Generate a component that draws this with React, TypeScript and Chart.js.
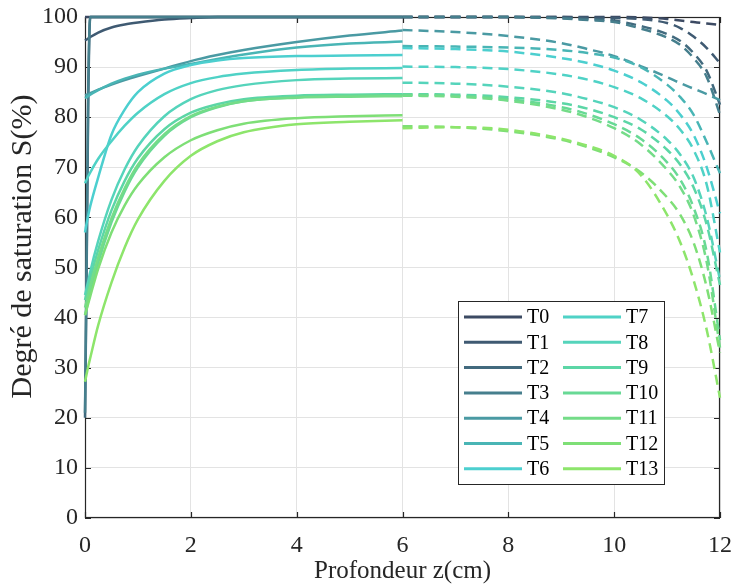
import React, { useEffect, useRef } from 'react';
import { Chart, registerables } from 'chart.js';

Chart.register(...registerables);

// ---------- data ----------
const seriesLabels = ['T0', 'T1', 'T2', 'T3', 'T4', 'T5', 'T6', 'T7', 'T8', 'T9', 'T10', 'T11', 'T12', 'T13'];
const seriesColors = [
  '#3c4a63', '#3f5a72', '#426a7e', '#467f8d', '#4a9aa3', '#49b5b5', '#4ccfcf',
  '#4fd2c6', '#55d4bb', '#5cd6a6', '#68d995', '#74dc88', '#7edf76', '#8de56b',
];

const xTicks = [0, 2, 4, 6, 8, 10, 12];
const yTicks = [0, 10, 20, 30, 40, 50, 60, 70, 80, 90, 100];

const xTitle = 'Profondeur z(cm)';
const yTitle = 'Degré de saturation S(%)';

// depth samples, solid part (0 → 6 cm)
const zSolid = [0, 0.03, 0.06, 0.1, 0.25, 0.5, 0.75, 1, 1.5, 2, 2.5, 3, 4, 5, 6];
// depth samples, dashed part (6 → 12 cm)
const zDashed = [6, 7, 8, 9, 9.5, 10, 10.5, 11, 11.25, 11.5, 11.75, 12];

const solidT0 = [100, 100, 100, 100, 100, 100, 100, 100, 100, 100, 100, 100, 100, 100, 100];
const solidT1 = [95.3, 95.5, 95.7, 96.0, 96.9, 97.9, 98.5, 98.9, 99.5, 99.8, 100, 100, 100, 100, 100];
const solidT2 = [20, 48, 82, 100, 100, 100, 100, 100, 100, 100, 100, 100, 100, 100, 100];
const solidT3 = [21, 50, 85, 100, 100, 100, 100, 100, 100, 100, 100, 100, 100, 100, 100];
const solidT4 = [84.4, 84.5, 84.6, 84.8, 85.5, 86.5, 87.4, 88.2, 89.7, 91.2, 92.4, 93.4, 95.0, 96.3, 97.3];
const solidT5 = [83.8, 84.0, 84.2, 84.5, 85.4, 86.7, 87.7, 88.5, 89.7, 90.6, 91.6, 92.5, 93.9, 94.7, 95.1];
const solidT6 = [57.0, 58.8, 60.4, 62.3, 68.0, 76.5, 81.5, 85.0, 88.7, 90.4, 91.3, 91.8, 92.2, 92.3, 92.4];
const solidT7 = [66.8, 67.5, 68.2, 69.0, 71.7, 75.2, 78.3, 80.9, 84.6, 86.8, 88.0, 88.7, 89.4, 89.7, 89.8];
const solidT8 = [44.5, 45.9, 47.2, 49.2, 55.3, 63.5, 69.6, 74.2, 80.2, 83.6, 85.4, 86.4, 87.4, 87.7, 87.8];
const solidT9 = [43.5, 44.8, 46.0, 47.8, 53.5, 61.4, 67.3, 71.8, 77.6, 80.9, 82.6, 83.6, 84.3, 84.5, 84.6];
const solidT10 = [40.5, 41.8, 43.2, 45.0, 51.0, 59.0, 65.2, 70.0, 76.3, 80.0, 82.0, 83.2, 84.0, 84.3, 84.4];
const solidT11 = [42.0, 43.3, 44.6, 46.4, 52.0, 59.8, 65.8, 70.5, 76.6, 80.2, 82.1, 83.2, 83.9, 84.1, 84.2];
const solidT12 = [40.5, 41.6, 42.8, 44.3, 49.8, 57.0, 62.4, 66.5, 72.0, 75.4, 77.4, 78.7, 79.8, 80.2, 80.4];
const solidT13 = [27.2, 28.7, 30.2, 32.0, 38.5, 47.0, 54.0, 59.6, 67.3, 72.3, 75.2, 77.0, 78.6, 79.1, 79.4];

const dashedT0 = [100, 100, 100, 100, 100, 100, 99.9, 99.6, 99.3, 99.0, 98.7, 98.4];
const dashedT1 = [100, 100, 100, 100, 99.9, 99.8, 99.6, 98.8, 97.8, 96.1, 93.8, 90.8];
const dashedT2 = [100, 100, 100, 99.8, 99.6, 99.3, 98.2, 96.6, 95.2, 92.8, 89.2, 82.5];
const dashedT3 = [100, 100, 100, 99.7, 99.4, 99.0, 97.7, 95.9, 94.4, 91.8, 88.0, 80.5];
const dashedT4 = [97.4, 97.0, 96.2, 94.8, 93.6, 92.2, 90.2, 88.0, 86.8, 85.7, 84.6, 83.4];
const dashedT5 = [94.2, 94.1, 93.9, 93.4, 92.8, 91.9, 90.0, 86.5, 84.0, 80.5, 75.0, 68.8];
const dashedT6 = [93.8, 93.6, 93.1, 91.8, 90.8, 89.3, 87.0, 83.3, 80.5, 76.5, 70.0, 60.8];
const dashedT7 = [90.1, 90.0, 89.6, 88.5, 87.5, 86.0, 83.8, 80.2, 77.5, 73.5, 66.5, 53.0];
const dashedT8 = [86.9, 86.7, 86.1, 84.8, 83.6, 82.0, 79.5, 75.5, 72.5, 68.0, 60.0, 47.5];
const dashedT9 = [84.6, 84.5, 84.0, 82.8, 81.7, 80.0, 77.6, 73.5, 70.5, 66.0, 58.5, 46.5];
const dashedT10 = [84.5, 84.3, 83.6, 82.0, 80.6, 78.6, 75.7, 71.0, 67.5, 62.0, 53.0, 35.5];
const dashedT11 = [84.3, 84.1, 83.3, 81.5, 80.0, 77.8, 74.6, 69.5, 66.0, 60.5, 51.0, 34.0];
const dashedT12 = [78.2, 78.0, 77.2, 75.5, 74.0, 72.0, 69.0, 64.0, 60.5, 55.0, 46.0, 33.0];
const dashedT13 = [77.8, 78.0, 77.5, 75.7, 74.3, 72.3, 68.5, 60.5, 55.0, 47.5, 37.5, 24.0];

const solidSeries = [solidT0, solidT1, solidT2, solidT3, solidT4, solidT5, solidT6, solidT7, solidT8, solidT9, solidT10, solidT11, solidT12, solidT13];
const dashedSeries = [dashedT0, dashedT1, dashedT2, dashedT3, dashedT4, dashedT5, dashedT6, dashedT7, dashedT8, dashedT9, dashedT10, dashedT11, dashedT12, dashedT13];

const SERIF = '"Liberation Serif", "Times New Roman", serif';
const AXIS_COLOR = '#262626';

// ---------- plugins ----------
const framePlugin = {
  id: 'frame',
  beforeDatasetsDraw(chart: any) {
    const { ctx, chartArea, scales } = chart;
    const { left, right, top, bottom } = chartArea;
    const L = 6;
    ctx.save();
    ctx.strokeStyle = AXIS_COLOR;
    ctx.lineWidth = 1.2;
    ctx.strokeRect(left + 0.5, top + 0.5, right - left - 1, bottom - top - 1);
    ctx.beginPath();
    scales.x.ticks.forEach((t: any) => {
      const px = Math.round(scales.x.getPixelForValue(t.value)) + 0.5;
      ctx.moveTo(px, bottom);
      ctx.lineTo(px, bottom - L);
      ctx.moveTo(px, top);
      ctx.lineTo(px, top + L);
    });
    scales.y.ticks.forEach((t: any) => {
      const py = Math.round(scales.y.getPixelForValue(t.value)) + 0.5;
      ctx.moveTo(left, py);
      ctx.lineTo(left + L, py);
      ctx.moveTo(right, py);
      ctx.lineTo(right - L, py);
    });
    ctx.stroke();

    // y axis title (drawn manually to match the reference placement)
    ctx.save();
    ctx.translate(23, (top + bottom) / 2 - 21);
    ctx.rotate(-Math.PI / 2);
    ctx.font = `30px ${SERIF}`;
    ctx.fillStyle = AXIS_COLOR;
    ctx.textAlign = 'center';
    ctx.textBaseline = 'middle';
    ctx.fillText(yTitle, 0, 0);
    ctx.restore();

    ctx.restore();
  },
};

const legendPlugin = {
  id: 'boxLegend',
  afterDatasetsDraw(chart: any) {
    const { ctx, chartArea } = chart;
    const x0 = chartArea.right - 262;
    const y0 = chartArea.bottom - 217;
    const w = 206;
    const h = 183;
    ctx.save();
    ctx.fillStyle = '#ffffff';
    ctx.fillRect(x0, y0, w, h);
    ctx.strokeStyle = AXIS_COLOR;
    ctx.lineWidth = 1;
    ctx.strokeRect(x0 + 0.5, y0 + 0.5, w, h);
    ctx.font = `20px ${SERIF}`;
    ctx.textBaseline = 'middle';
    ctx.textAlign = 'left';
    const entries = chart.data.datasets.filter((d: any) => d.legendEntry);
    entries.forEach((d: any, i: number) => {
      const col = Math.floor(i / 7);
      const row = i % 7;
      const lx = x0 + 6 + col * 99;
      const ly = y0 + 16 + row * 25.3;
      ctx.strokeStyle = d.borderColor;
      ctx.lineWidth = 3;
      ctx.beginPath();
      ctx.moveTo(lx, ly);
      ctx.lineTo(lx + 58, ly);
      ctx.stroke();
      ctx.fillStyle = '#000000';
      ctx.fillText(d.label, lx + 63, ly + 1);
    });
    ctx.restore();
  },
};

const zeroPadding = (scale: any) => {
  scale.paddingLeft = 0;
  scale.paddingRight = 0;
  scale.paddingTop = 0;
  scale.paddingBottom = 0;
};

export default function App() {
  const canvasRef = useRef<HTMLCanvasElement | null>(null);

  useEffect(() => {
    document.body.style.margin = '0';
    const canvas = canvasRef.current;
    if (!canvas) return;

    const datasets: any[] = [];
    seriesLabels.forEach((label, i) => {
      datasets.push({
        label,
        legendEntry: true,
        data: zSolid.map((z, k) => ({ x: z, y: solidSeries[i][k] })),
        borderColor: seriesColors[i],
        backgroundColor: seriesColors[i],
        borderWidth: 2.5,
        pointRadius: 0,
        cubicInterpolationMode: 'monotone',
        fill: false,
        clip: 4,
        order: 100 - i,
      });
      datasets.push({
        label: label + ' (suite)',
        legendEntry: false,
        data: zDashed.map((z, k) => ({ x: z, y: dashedSeries[i][k] })),
        borderColor: seriesColors[i],
        backgroundColor: seriesColors[i],
        borderWidth: 2.5,
        borderDash: [10, 6],
        pointRadius: 0,
        cubicInterpolationMode: 'monotone',
        fill: false,
        clip: 4,
        order: 100 - i,
      });
    });

    const chart = new Chart(canvas, {
      type: 'line',
      data: { datasets },
      options: {
        responsive: false,
        animation: false,
        events: [],
        layout: { padding: { top: 17, right: 14, left: 0, bottom: 0 } },
        plugins: {
          legend: { display: false },
          tooltip: { enabled: false },
          title: { display: false },
        },
        scales: {
          x: {
            type: 'linear',
            min: 0,
            max: 12,
            afterBuildTicks: (scale: any) => {
              scale.ticks = xTicks.map((v) => ({ value: v }));
            },
            afterFit: (scale: any) => {
              scale.height = 66;
              zeroPadding(scale);
            },
            grid: { color: '#e3e3e3', lineWidth: 1, drawTicks: false },
            border: { display: false },
            ticks: {
              color: AXIS_COLOR,
              padding: 13,
              maxRotation: 0,
              font: { family: SERIF, size: 24 },
            },
            title: {
              display: true,
              text: xTitle,
              color: AXIS_COLOR,
              font: { family: SERIF, size: 25 },
              padding: { top: 0, bottom: -2 },
            },
          },
          y: {
            type: 'linear',
            min: 0,
            max: 100,
            afterBuildTicks: (scale: any) => {
              scale.ticks = yTicks.map((v) => ({ value: v }));
            },
            afterFit: (scale: any) => {
              scale.width = 85;
              zeroPadding(scale);
            },
            grid: { color: '#e3e3e3', lineWidth: 1, drawTicks: false },
            border: { display: false },
            ticks: {
              color: AXIS_COLOR,
              padding: 7,
              font: { family: SERIF, size: 24 },
            },
            title: { display: false },
          },
        },
      } as any,
      plugins: [framePlugin, legendPlugin],
    });

    return () => {
      chart.destroy();
    };
  }, []);

  return (
    <div style={{ width: 734, height: 584, background: '#ffffff' }}>
      <canvas ref={canvasRef} width={734} height={584} style={{ display: 'block', width: 734, height: 584 }} />
    </div>
  );
}
